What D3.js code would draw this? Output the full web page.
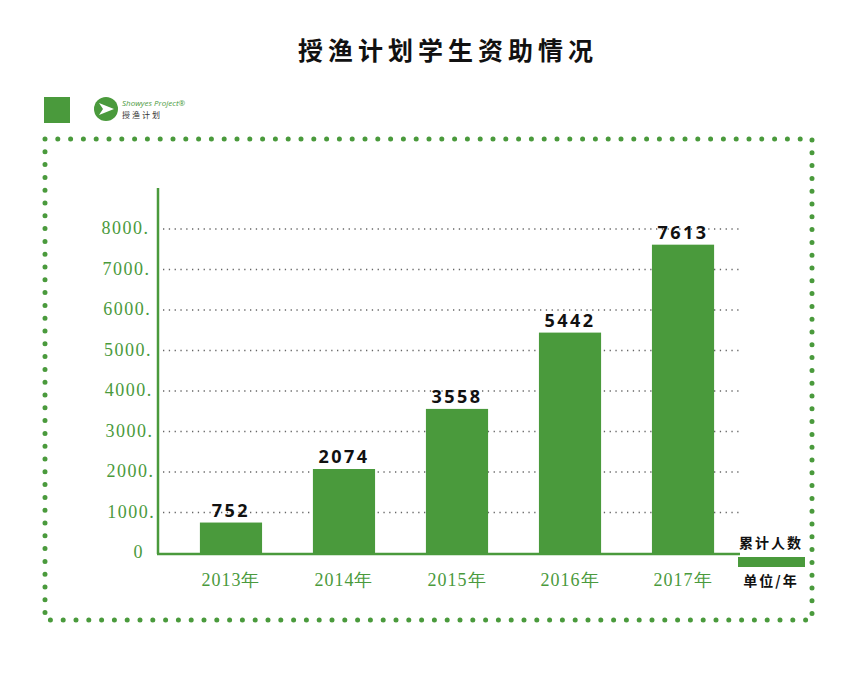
<!DOCTYPE html>
<html><head><meta charset="utf-8">
<script src="https://cdn.jsdelivr.net/npm/d3@7"></script>
<style>body{margin:0;background:#fff}</style>
</head><body>
<script>
var years = ['2013年', '2014年', '2015年', '2016年', '2017年'];
var values = [752, 2074, 3558, 5442, 7613];
var yTicks = [0, 1000, 2000, 3000, 4000, 5000, 6000, 7000, 8000];

var green = '#4a9a3c';
var svg = d3.select('body').append('svg').attr('width', 856).attr('height', 695);

svg.append('text').attr('x', 448).attr('y', 60).attr('text-anchor', 'middle')
    .style('font-family', 'Noto Sans CJK SC').style('font-weight', 'bold')
    .style('font-size', '25px').style('letter-spacing', '5px').attr('fill', '#111')
    .text('授渔计划学生资助情况');

// logo
svg.append('rect').attr('x', 44).attr('y', 97).attr('width', 26).attr('height', 26).attr('fill', green);
svg.append('circle').attr('cx', 106).attr('cy', 109).attr('r', 12).attr('fill', green);
svg.append('path').attr('d', 'M99,103 L114,109 L99,115 L103,109 Z').attr('fill', '#fff');
svg.append('text').attr('x', 122).attr('y', 106).style('font-family', 'Open Sans')
    .style('font-style', 'italic').style('font-size', '8px').attr('fill', green).text('Showyes Project®');
svg.append('text').attr('x', 122).attr('y', 118).style('font-family', 'Noto Sans CJK SC')
    .style('font-size', '8px').style('letter-spacing', '2px').attr('fill', '#333').text('授渔计划');

// dotted frame
svg.append('rect').attr('x', 45).attr('y', 139).attr('width', 767).attr('height', 481)
    .attr('fill', 'none').attr('stroke', green).attr('stroke-width', 5)
    .attr('stroke-linecap', 'round').attr('stroke-dasharray', '0 12.8');

var y = d3.scaleLinear().domain([0, 8000]).range([553, 229]);
var x = d3.scaleBand().domain(years).range([166, 748]).paddingInner(0.45).paddingOuter(0.3);

var g = svg.append('g');
g.selectAll('.grid').data(yTicks.slice(1)).enter().append('line')
    .attr('x1', 163).attr('x2', 740).attr('y1', d => y(d)).attr('y2', d => y(d))
    .attr('stroke', '#666').attr('stroke-width', 1.3).attr('stroke-dasharray', '1.3 4.5');

g.selectAll('.yl').data(yTicks).enter().append('text')
    .attr('x', (d, i) => i === 0 ? 144 : 156 - i * 0.8).attr('y', d => y(d) + 5).attr('text-anchor', 'end')
    .style('font-family', '"Liberation Serif", "DejaVu Serif", serif').style('font-size', '18px')
    .style('letter-spacing', '1.5px')
    .attr('fill', green).text(d => d === 0 ? d : d + '.');

g.selectAll('.bar').data(values).enter().append('rect')
    .attr('x', (d, i) => x(years[i])).attr('width', x.bandwidth())
    .attr('y', d => y(d)).attr('height', d => y(0) - y(d)).attr('fill', green);

g.selectAll('.vl').data(values).enter().append('text')
    .attr('x', (d, i) => x(years[i]) + x.bandwidth() / 2).attr('y', d => y(d) - 6)
    .attr('text-anchor', 'middle').style('font-family', 'Open Sans').style('font-weight', 'bold')
    .style('font-size', '18px').style('letter-spacing', '2.5px').attr('fill', '#111').text(d => d);

g.append('line').attr('x1', 158).attr('x2', 158).attr('y1', 188).attr('y2', 554)
    .attr('stroke', green).attr('stroke-width', 2.5);
g.append('line').attr('x1', 157).attr('x2', 740).attr('y1', 554).attr('y2', 554)
    .attr('stroke', green).attr('stroke-width', 2.5);

g.selectAll('.xl').data(years).enter().append('text')
    .attr('x', d => x(d) + x.bandwidth() / 2).attr('y', 586).attr('text-anchor', 'middle')
    .style('font-family', '"Liberation Serif", "DejaVu Serif", serif').style('font-size', '18px')
    .style('letter-spacing', '1px').attr('fill', green).text(d => d);

// legend
svg.append('text').attr('x', 771).attr('y', 548).attr('text-anchor', 'middle')
    .style('font-family', 'Noto Sans CJK SC').style('font-weight', 'bold').style('font-size', '14px')
    .style('letter-spacing', '2px').attr('fill', '#111').text('累计人数');
svg.append('rect').attr('x', 738).attr('y', 557).attr('width', 67).attr('height', 10).attr('fill', green);
svg.append('text').attr('x', 771).attr('y', 586).attr('text-anchor', 'middle')
    .style('font-family', 'Noto Sans CJK SC').style('font-weight', 'bold').style('font-size', '14px')
    .style('letter-spacing', '2px').attr('fill', '#111').text('单位/年');
</script>
</body></html>
